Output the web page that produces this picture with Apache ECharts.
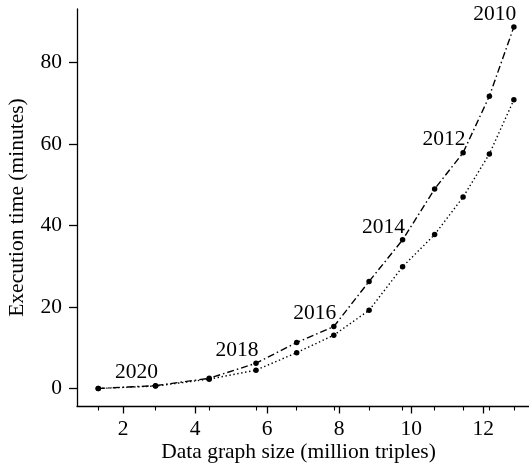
<!DOCTYPE html>
<html>
<head>
<meta charset="utf-8">
<script src="https://cdn.jsdelivr.net/npm/echarts@6/dist/echarts.min.js"></script>
<style>
html,body{margin:0;padding:0;background:#fff;}
#chart{width:529px;height:466px;}
</style>
</head>
<body>
<div id="chart"></div>
<script>
// Data
var years = [2021, 2020, 2019, 2018, 2017, 2016, 2015, 2014, 2013, 2012, 2011, 2010];
var sizes = [1.31, 2.90, 4.39, 5.69, 6.82, 7.85, 8.83, 9.76, 10.65, 11.44, 12.17, 12.85];
var timeDashDot = [0.0, 0.7, 2.5, 6.2, 11.3, 15.2, 26.3, 36.5, 49.0, 57.9, 71.8, 88.8];
var timeDotted = [0.0, 0.6, 2.3, 4.5, 8.8, 13.1, 19.2, 29.9, 37.8, 47.0, 57.6, 70.9];
var labeledYears = [2020, 2018, 2016, 2014, 2012, 2010];
var xTicks = [2, 4, 6, 8, 10, 12];
var yTicks = [0, 20, 40, 60, 80];
var xTitle = 'Data graph size (million triples)';
var yTitle = 'Execution time (minutes)';

var FONT = 'Liberation Serif';
var FS = 21.5;
var xMin = 0.72, xMax = 13.27, yMin = -4.3, yMax = 93.2;

var dashDotData = sizes.map(function (s, i) {
  var item = { value: [s, timeDashDot[i]] };
  if (labeledYears.indexOf(years[i]) >= 0) {
    item.label = { show: true, formatter: String(years[i]) };
  }
  return item;
});
var dottedData = sizes.map(function (s, i) { return [s, timeDotted[i]]; });

var chart = echarts.init(document.getElementById('chart'), null, { renderer: 'canvas' });
chart.setOption({
  backgroundColor: '#fff',
  animation: false,
  textStyle: { fontFamily: FONT },
  grid: { left: 77, right: 0, top: 9, bottom: 60, containLabel: false, outerBoundsMode: 'none' },
  xAxis: [{
    type: 'value', min: xMin, max: xMax,
    name: xTitle, nameLocation: 'middle', nameGap: 35, nameMoveOverlap: false,
    nameTextStyle: { fontFamily: FONT, fontSize: FS, color: '#000', padding: [0, 9, 0, 0] },
    axisLine: { show: true, onZero: false, lineStyle: { color: '#000', width: 1.3 } },
    axisTick: { show: true, length: 7.5, customValues: xTicks, lineStyle: { color: '#000', width: 1.3 } },
    axisLabel: { show: true, customValues: xTicks, margin: 12, fontFamily: FONT, fontSize: FS, color: '#000' },
    splitLine: { show: false }
  }, {
    type: 'value', min: xMin, max: xMax, position: 'bottom',
    axisLine: { show: false, onZero: false },
    axisTick: { show: true, length: 4.5, customValues: sizes, lineStyle: { color: '#000', width: 1.1 } },
    axisLabel: { show: false },
    splitLine: { show: false }
  }],
  yAxis: {
    type: 'value', min: yMin, max: yMax,
    name: yTitle, nameLocation: 'middle', nameGap: 49, nameRotate: 90, nameMoveOverlap: false,
    nameTextStyle: { fontFamily: FONT, fontSize: FS, color: '#000' },
    axisLine: { show: true, onZero: false, lineStyle: { color: '#000', width: 1.3 } },
    axisTick: { show: true, length: 8, customValues: yTicks, lineStyle: { color: '#000', width: 1.3 } },
    axisLabel: { show: true, customValues: yTicks, margin: 15, fontFamily: FONT, fontSize: FS, color: '#000' },
    splitLine: { show: false }
  },
  series: [{
    type: 'line', xAxisIndex: 0, data: dashDotData,
    symbol: 'circle', symbolSize: 5.5,
    itemStyle: { color: '#000' },
    lineStyle: { color: '#000', width: 1.4, type: [7, 3, 1.5, 3] },
    label: { show: false, position: 'inside', offset: [-19, -13], fontFamily: FONT, fontSize: FS, color: '#000' },
    z: 3
  }, {
    type: 'line', xAxisIndex: 0, data: dottedData,
    symbol: 'circle', symbolSize: 5.5,
    itemStyle: { color: '#000' },
    lineStyle: { color: '#000', width: 1.4, type: [1.4, 2.6] },
    z: 2
  }]
});
</script>
</body>
</html>
